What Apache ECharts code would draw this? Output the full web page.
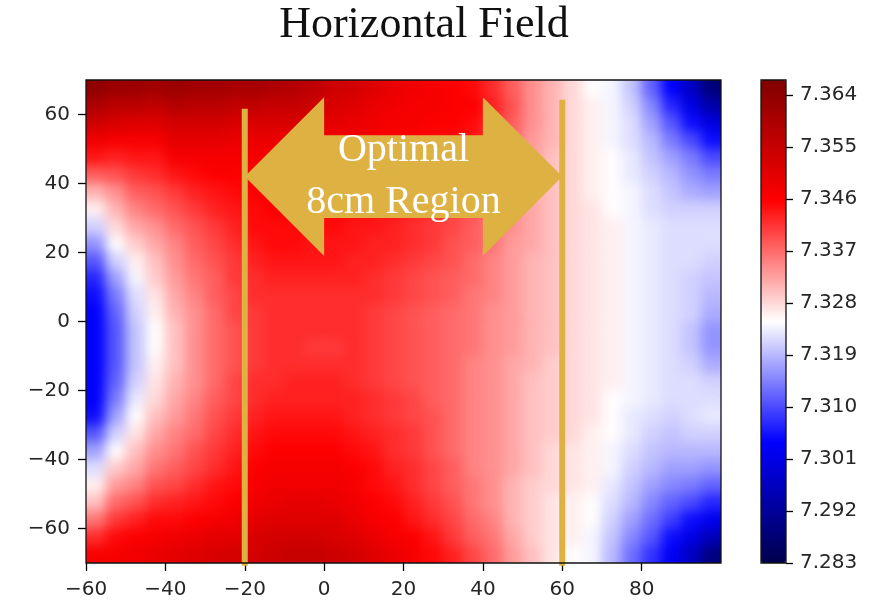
<!DOCTYPE html>
<html>
<head>
<meta charset="utf-8">
<title>Horizontal Field</title>
<script src="https://cdn.jsdelivr.net/npm/echarts@6/dist/echarts.min.js"></script>
<style>
  html, body { margin: 0; padding: 0; background: #fff; }
  #wrap { position: relative; width: 871px; height: 602px; }
  /* the field layer sits under the plot area and is softened like a filled contour */
  #field { position: absolute; left: 86px; top: 80px; width: 635px; height: 483px; overflow: hidden; }
  #fieldChart { width: 635px; height: 483px; filter: url(#smooth); }
  #chart { position: absolute; left: 0; top: 0; width: 871px; height: 602px; }
</style>
</head>
<body>
<svg width="0" height="0" style="position:absolute">
  <filter id="smooth" x="0" y="0" width="1" height="1" color-interpolation-filters="sRGB">
    <feGaussianBlur stdDeviation="6"/>
    <feComponentTransfer><feFuncA type="table" tableValues="1 1"/></feComponentTransfer>
  </filter>
</svg>
<div id="wrap">
  <div id="field"><div id="fieldChart"></div></div>
  <div id="chart"></div>
</div>
<script>
// cell centres (cm)
const xCenters = [-57.5, -52.5, -47.5, -42.5, -37.5, -32.5, -27.5, -22.5, -17.5, -12.5, -7.5, -2.5,
  2.5, 7.5, 12.5, 17.5, 22.5, 27.5, 32.5, 37.5, 42.5, 47.5, 52.5, 57.5, 62.5, 67.5, 72.5, 77.5,
  82.5, 87.5, 92.5, 97.5];
// top row first
const yCenters = [67.5, 62.5, 57.5, 52.5, 47.5, 42.5, 37.5, 32.5, 27.5, 22.5, 17.5, 12.5, 7.5, 2.5,
  -2.5, -7.5, -12.5, -17.5, -22.5, -27.5, -32.5, -37.5, -42.5, -47.5, -52.5, -57.5, -62.5, -67.5];

// field, one array per x column, top row -> bottom row
const fieldColumns = [
  [7.364,7.359,7.354,7.348,7.344,7.338,7.331,7.326,7.321,7.316,7.311,7.307,7.305,7.304,7.304,7.304,7.304,7.304,7.304,7.305,7.311,7.317,7.322,7.326,7.330,7.336,7.342,7.347],
  [7.362,7.357,7.352,7.347,7.343,7.339,7.334,7.331,7.328,7.325,7.321,7.317,7.314,7.312,7.311,7.311,7.311,7.312,7.314,7.317,7.321,7.325,7.329,7.333,7.337,7.341,7.345,7.347],
  [7.362,7.357,7.351,7.347,7.344,7.341,7.338,7.335,7.332,7.329,7.326,7.324,7.322,7.321,7.320,7.320,7.320,7.321,7.323,7.325,7.327,7.330,7.332,7.335,7.339,7.343,7.346,7.348],
  [7.361,7.356,7.351,7.347,7.344,7.342,7.339,7.337,7.334,7.332,7.330,7.329,7.327,7.326,7.325,7.325,7.326,7.327,7.328,7.330,7.332,7.334,7.336,7.339,7.342,7.345,7.347,7.349],
  [7.362,7.358,7.353,7.350,7.347,7.344,7.341,7.339,7.337,7.335,7.334,7.333,7.332,7.331,7.330,7.330,7.330,7.331,7.332,7.333,7.335,7.336,7.338,7.340,7.343,7.345,7.348,7.350],
  [7.361,7.357,7.353,7.350,7.347,7.345,7.343,7.341,7.339,7.338,7.337,7.336,7.335,7.334,7.334,7.334,7.334,7.334,7.335,7.336,7.337,7.339,7.340,7.342,7.344,7.346,7.349,7.351],
  [7.361,7.357,7.353,7.350,7.347,7.346,7.344,7.343,7.341,7.340,7.339,7.338,7.338,7.337,7.337,7.337,7.337,7.337,7.338,7.339,7.340,7.341,7.342,7.344,7.345,7.347,7.350,7.352],
  [7.360,7.356,7.352,7.349,7.347,7.346,7.345,7.344,7.343,7.342,7.341,7.341,7.340,7.340,7.339,7.339,7.339,7.340,7.340,7.341,7.342,7.343,7.344,7.345,7.346,7.348,7.350,7.353],
  [7.360,7.356,7.352,7.349,7.347,7.346,7.346,7.345,7.345,7.344,7.343,7.342,7.342,7.341,7.341,7.341,7.341,7.342,7.342,7.343,7.344,7.345,7.346,7.347,7.348,7.350,7.352,7.353],
  [7.359,7.355,7.352,7.349,7.347,7.346,7.346,7.346,7.345,7.345,7.344,7.343,7.342,7.342,7.342,7.342,7.342,7.342,7.343,7.344,7.345,7.346,7.347,7.348,7.349,7.351,7.353,7.354],
  [7.358,7.355,7.352,7.349,7.347,7.346,7.346,7.346,7.345,7.345,7.344,7.343,7.342,7.342,7.342,7.342,7.342,7.343,7.343,7.344,7.345,7.346,7.347,7.348,7.350,7.351,7.353,7.355],
  [7.356,7.354,7.351,7.348,7.347,7.346,7.346,7.345,7.345,7.344,7.344,7.343,7.342,7.342,7.342,7.341,7.342,7.343,7.343,7.344,7.345,7.346,7.347,7.348,7.350,7.351,7.353,7.355],
  [7.354,7.352,7.350,7.348,7.347,7.346,7.346,7.345,7.345,7.344,7.344,7.343,7.342,7.342,7.342,7.341,7.342,7.343,7.343,7.344,7.345,7.346,7.347,7.348,7.349,7.351,7.352,7.354],
  [7.353,7.351,7.349,7.348,7.347,7.346,7.345,7.345,7.344,7.344,7.343,7.343,7.342,7.342,7.342,7.342,7.342,7.342,7.343,7.343,7.344,7.345,7.346,7.347,7.348,7.349,7.351,7.353],
  [7.351,7.349,7.348,7.347,7.346,7.345,7.345,7.344,7.344,7.343,7.343,7.342,7.342,7.341,7.341,7.341,7.341,7.341,7.342,7.342,7.343,7.344,7.345,7.345,7.346,7.347,7.349,7.351],
  [7.349,7.348,7.347,7.346,7.345,7.345,7.344,7.344,7.343,7.343,7.342,7.341,7.341,7.340,7.340,7.340,7.340,7.340,7.341,7.341,7.342,7.342,7.343,7.344,7.345,7.346,7.347,7.349],
  [7.348,7.347,7.347,7.346,7.345,7.344,7.343,7.343,7.342,7.342,7.341,7.340,7.340,7.339,7.339,7.339,7.339,7.339,7.340,7.340,7.341,7.341,7.342,7.342,7.343,7.344,7.346,7.347],
  [7.347,7.347,7.346,7.345,7.344,7.343,7.342,7.342,7.341,7.341,7.340,7.339,7.339,7.338,7.338,7.338,7.338,7.338,7.338,7.339,7.339,7.339,7.340,7.340,7.341,7.342,7.344,7.345],
  [7.346,7.346,7.346,7.345,7.343,7.342,7.341,7.340,7.340,7.339,7.339,7.338,7.338,7.337,7.337,7.337,7.337,7.337,7.337,7.337,7.337,7.337,7.338,7.338,7.339,7.340,7.341,7.343],
  [7.345,7.346,7.345,7.344,7.342,7.341,7.340,7.339,7.338,7.338,7.337,7.337,7.336,7.336,7.336,7.336,7.335,7.335,7.335,7.335,7.335,7.335,7.335,7.336,7.336,7.337,7.338,7.340],
  [7.342,7.343,7.342,7.341,7.340,7.339,7.338,7.337,7.336,7.336,7.335,7.335,7.335,7.334,7.334,7.334,7.334,7.334,7.334,7.334,7.334,7.334,7.334,7.334,7.334,7.335,7.336,7.337],
  [7.338,7.339,7.338,7.337,7.337,7.336,7.335,7.334,7.334,7.333,7.333,7.333,7.333,7.333,7.333,7.333,7.332,7.332,7.332,7.332,7.332,7.332,7.332,7.331,7.331,7.331,7.332,7.333],
  [7.334,7.334,7.334,7.333,7.333,7.333,7.332,7.332,7.332,7.332,7.331,7.331,7.331,7.331,7.331,7.331,7.331,7.330,7.330,7.330,7.330,7.330,7.330,7.329,7.329,7.329,7.329,7.330],
  [7.331,7.331,7.331,7.331,7.330,7.330,7.330,7.330,7.330,7.330,7.330,7.330,7.330,7.330,7.330,7.330,7.329,7.329,7.329,7.329,7.329,7.328,7.328,7.328,7.327,7.327,7.327,7.327],
  [7.328,7.328,7.328,7.328,7.328,7.328,7.328,7.328,7.328,7.328,7.328,7.328,7.328,7.328,7.328,7.328,7.328,7.328,7.328,7.328,7.328,7.327,7.327,7.327,7.326,7.326,7.326,7.325],
  [7.325,7.326,7.326,7.326,7.326,7.326,7.326,7.327,7.327,7.327,7.327,7.327,7.327,7.327,7.327,7.327,7.327,7.327,7.327,7.327,7.326,7.326,7.326,7.326,7.325,7.325,7.324,7.324],
  [7.324,7.324,7.324,7.324,7.325,7.325,7.325,7.325,7.326,7.326,7.326,7.326,7.326,7.326,7.326,7.326,7.326,7.326,7.325,7.325,7.325,7.324,7.324,7.323,7.322,7.321,7.320,7.319],
  [7.320,7.321,7.322,7.322,7.323,7.323,7.324,7.324,7.324,7.324,7.324,7.324,7.324,7.324,7.324,7.324,7.324,7.324,7.324,7.323,7.323,7.322,7.321,7.320,7.319,7.317,7.315,7.313],
  [7.312,7.315,7.317,7.319,7.320,7.321,7.322,7.322,7.323,7.323,7.323,7.323,7.323,7.323,7.323,7.323,7.323,7.323,7.323,7.322,7.321,7.320,7.319,7.317,7.315,7.313,7.311,7.308],
  [7.304,7.307,7.311,7.314,7.317,7.319,7.320,7.321,7.322,7.322,7.322,7.322,7.322,7.322,7.322,7.322,7.322,7.322,7.322,7.321,7.320,7.319,7.317,7.315,7.312,7.309,7.305,7.303],
  [7.297,7.301,7.305,7.310,7.314,7.316,7.318,7.321,7.322,7.322,7.322,7.321,7.321,7.321,7.320,7.320,7.321,7.322,7.322,7.322,7.321,7.319,7.317,7.314,7.310,7.305,7.301,7.297],
  [7.288,7.294,7.300,7.305,7.310,7.314,7.317,7.321,7.322,7.322,7.321,7.320,7.319,7.318,7.316,7.316,7.318,7.321,7.322,7.323,7.321,7.319,7.316,7.312,7.307,7.302,7.296,7.289]
];

const xTicks = [-60, -40, -20, 0, 20, 40, 60, 80];
const yTicks = [-60, -40, -20, 0, 20, 40, 60];
const colorbarTicks = [7.283, 7.292, 7.301, 7.310, 7.319, 7.328, 7.337, 7.346, 7.355, 7.364];

const seismic = ['#00004d', '#0000ff', '#ffffff', '#ff0000', '#800000'];
const fieldMin = 7.283;
const fieldMax = 7.3666;
const gold = '#DEB143';
const axisFont = { fontSize: 20, fontFamily: 'DejaVu Sans', color: '#262626' };
const minus = v => (v < 0 ? '\u2212' + Math.abs(v) : String(v));

var heatData = [];
fieldColumns.forEach(function (col, i) {
  col.forEach(function (v, j) { heatData.push([i, j, v]); });
});

// layer 1: the field itself
var fieldChart = echarts.init(document.getElementById('fieldChart'));
fieldChart.setOption({
  animation: false,
  grid: { left: 0, right: 0, top: 0, bottom: 0 },
  xAxis: { type: 'category', data: xCenters, show: false },
  yAxis: { type: 'category', data: yCenters, inverse: true, show: false },
  visualMap: { type: 'continuous', show: false, min: fieldMin, max: fieldMax, inRange: { color: seismic } },
  series: [{
    type: 'heatmap',
    data: heatData,
    emphasis: { disabled: true },
    itemStyle: { borderWidth: 0 }
  }]
});

// layer 2: axes, colorbar, title and the annotation
var myChart = echarts.init(document.getElementById('chart'));
var option = {
  animation: false,
  grid: [
    { left: 86, top: 80, width: 635, height: 483 },
    { left: 761, top: 80, width: 25, height: 483 }
  ],
  xAxis: [
    {
      type: 'value', gridIndex: 0, min: -60, max: 100, position: 'bottom', z: 5,
      axisLine: { show: false, onZero: false },
      axisTick: { show: true, length: 8, customValues: xTicks, lineStyle: { color: '#000', width: 1.3 } },
      axisLabel: Object.assign({ customValues: xTicks, formatter: minus, margin: 17 }, axisFont),
      splitLine: { show: false }
    },
    { type: 'category', gridIndex: 1, data: [''], show: false }
  ],
  yAxis: [
    {
      type: 'value', gridIndex: 0, min: -70, max: 70, position: 'left', z: 5,
      axisLine: { show: false, onZero: false },
      axisTick: { show: true, length: 8, customValues: yTicks, lineStyle: { color: '#000', width: 1.3 } },
      axisLabel: Object.assign({ customValues: yTicks, formatter: minus, margin: 16 }, axisFont),
      splitLine: { show: false }
    },
    {
      type: 'value', gridIndex: 1, min: fieldMin, max: fieldMax, position: 'right', z: 5,
      axisLine: { show: false, onZero: false },
      axisTick: { show: true, length: 7, customValues: colorbarTicks, lineStyle: { color: '#000', width: 1.3 } },
      axisLabel: Object.assign({ customValues: colorbarTicks, margin: 14, formatter: v => v.toFixed(3) }, axisFont),
      splitLine: { show: false }
    }
  ],
  visualMap: {
    type: 'continuous',
    seriesIndex: [],
    min: fieldMin,
    max: fieldMax,
    orient: 'vertical',
    left: 761,
    top: 80,
    itemWidth: 25,
    itemHeight: 483,
    padding: 0,
    calculable: false,
    hoverLink: false,
    inRange: { color: seismic }
  },
  graphic: [
    {
      type: 'text', x: 424, y: 25, z: 100,
      style: { text: 'Horizontal Field', font: '44px "Liberation Serif"', fill: '#111', align: 'center', verticalAlign: 'middle' }
    },
    { type: 'rect', z: 100, shape: { x: 86, y: 80, width: 635, height: 483 }, style: { fill: 'none', stroke: '#111', lineWidth: 1.3 } },
    { type: 'rect', z: 100, shape: { x: 761, y: 80, width: 25, height: 483 }, style: { fill: 'none', stroke: '#111', lineWidth: 1.3 } }
  ],
  series: [
    {
      // optimal region markers and arrow
      type: 'custom',
      xAxisIndex: 0,
      yAxisIndex: 0,
      data: [0],
      z: 10,
      silent: true,
      renderItem: function (params, api) {
        var p = function (x, y) { return api.coord([x, y]); };
        var arrow = [[-20, 42], [0, 65], [0, 54], [40, 54], [40, 65], [60, 42], [40, 19], [40, 30], [0, 30], [0, 19]];
        var l1a = p(-20, 61.7), l1b = p(-20, -70.8);
        var l2a = p(60, 64.3), l2b = p(60, -70.8);
        var t1 = p(20, 49.6), t2 = p(20, 34.6);
        return {
          type: 'group',
          children: [
            { type: 'line', shape: { x1: l1a[0], y1: l1a[1], x2: l1b[0], y2: l1b[1] }, style: { stroke: gold, lineWidth: 6 } },
            { type: 'line', shape: { x1: l2a[0], y1: l2a[1], x2: l2b[0], y2: l2b[1] }, style: { stroke: gold, lineWidth: 6 } },
            { type: 'polygon', shape: { points: arrow.map(function (a) { return p(a[0], a[1]); }) }, style: { fill: gold } },
            { type: 'text', style: { text: 'Optimal', x: t1[0], y: t1[1], fill: '#fff', font: '40px "Liberation Serif"', align: 'center', verticalAlign: 'middle' } },
            { type: 'text', style: { text: '8cm Region', x: t2[0], y: t2[1], fill: '#fff', font: '40px "Liberation Serif"', align: 'center', verticalAlign: 'middle' } }
          ]
        };
      }
    }
  ]
};
myChart.setOption(option);

window.onresize = () => { fieldChart.resize(); myChart.resize(); };
</script>
</body>
</html>
